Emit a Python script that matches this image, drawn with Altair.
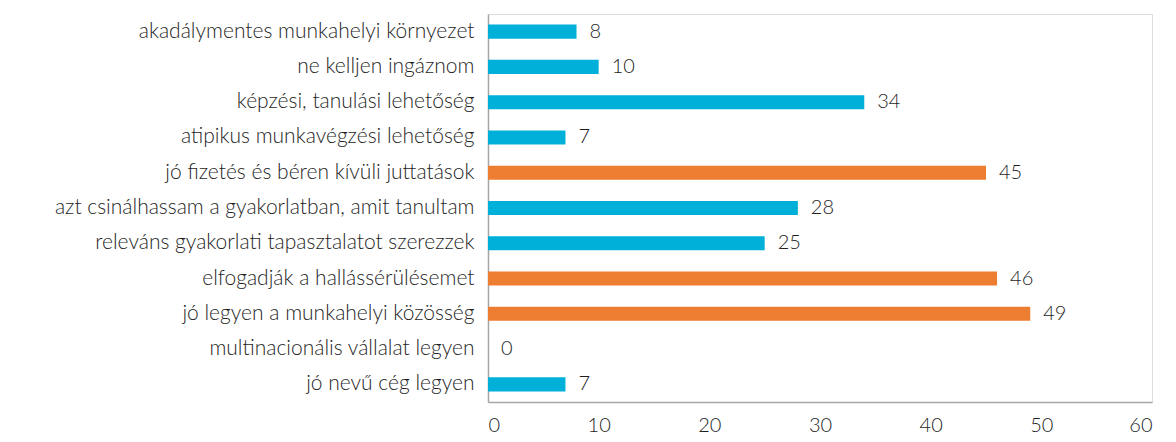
import altair as alt
import pandas as pd

categories = [
    "akadálymentes munkahelyi környezet",
    "ne kelljen ingáznom",
    "képzési, tanulási lehetőség",
    "atipikus munkavégzési lehetőség",
    "jó fizetés és béren kívüli juttatások",
    "azt csinálhassam a gyakorlatban, amit tanultam",
    "releváns gyakorlati tapasztalatot szerezzek",
    "elfogadják a hallássérülésemet",
    "jó legyen a munkahelyi közösség",
    "multinacionális vállalat legyen",
    "jó nevű cég legyen",
]
values = [8, 10, 34, 7, 45, 28, 25, 46, 49, 0, 7]
groups = ["a", "a", "a", "a", "b", "a", "a", "b", "b", "a", "a"]

df = pd.DataFrame({"cat": categories, "val": values, "grp": groups})

FONT = "Lato"
TXT = "#1f1f1f"
FS = 20
FW = 300

y = alt.Y("cat:N", sort=categories, title=None,
          scale=alt.Scale(paddingInner=0.6, paddingOuter=0.3),
          axis=alt.Axis(labelFont=FONT, labelFontSize=21, labelFontWeight=FW,
                        labelColor=TXT, labelPadding=14, labelLimit=600,
                        ticks=False, domainColor="#a6a6a6", domainWidth=1.5))
x = alt.X("val:Q", title=None,
          scale=alt.Scale(domain=[0, 60], nice=False),
          axis=alt.Axis(values=[0, 10, 20, 30, 40, 50, 60], labelFont=FONT,
                        labelFontSize=FS, labelFontWeight=FW, labelColor=TXT,
                        labelPadding=13, ticks=False, grid=False,
                        domainColor="#a6a6a6", domainWidth=1.5))

bars = alt.Chart(df).mark_bar().encode(
    y=y, x=x,
    color=alt.Color("grp:N", scale=alt.Scale(domain=["a", "b"], range=["#00B0D8", "#ED7D31"]), legend=None),
)
labels = alt.Chart(df).mark_text(align="left", baseline="middle", dx=13, font=FONT,
                                 fontSize=FS, fontWeight=FW, color=TXT).encode(
    y=alt.Y("cat:N", sort=categories), x=alt.X("val:Q"), text="val:Q")

chart = alt.layer(bars, labels).properties(
    width=664, height=388,
    autosize=alt.AutoSizeParams(type="none"),
    padding={"left": 480, "top": 6, "right": 16, "bottom": 32},
).configure_view(stroke=None).configure(background="white")

chart.save("out.html", embed_options={"renderer": "svg", "actions": False})
